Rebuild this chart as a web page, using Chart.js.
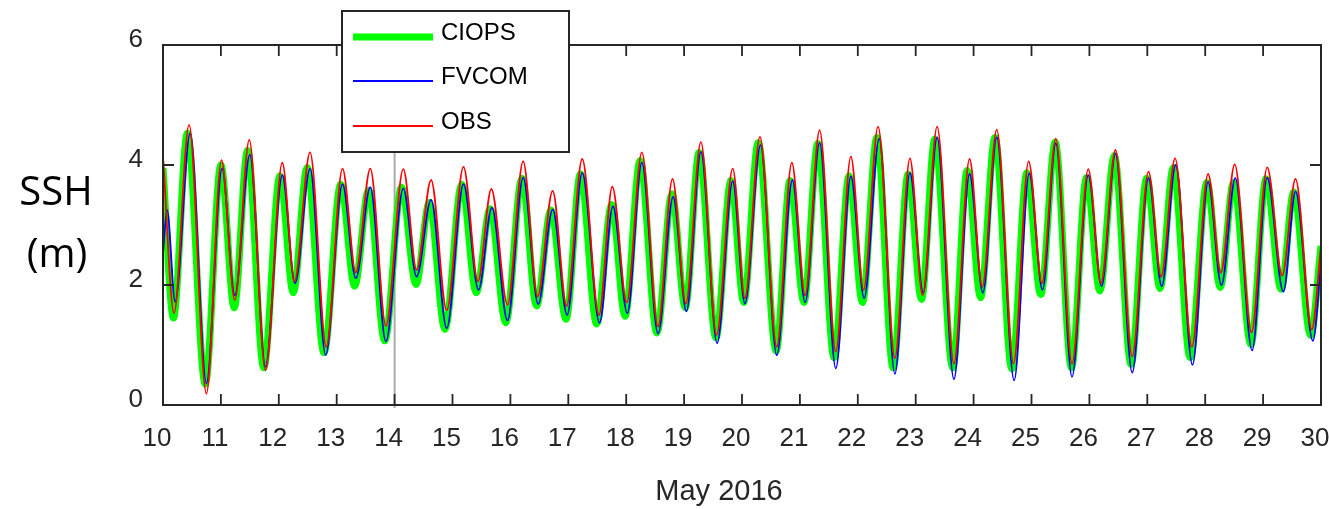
<!DOCTYPE html>
<html>
<head>
<meta charset="utf-8">
<script src="https://cdn.jsdelivr.net/npm/chart.js@4/dist/chart.umd.min.js"></script>
<style>
  html, body { margin: 0; padding: 0; background: #fff; }
  #wrap { width: 1329px; height: 509px; }
</style>
</head>
<body>
<div id="wrap"><canvas id="grafico" width="1329" height="509"></canvas></div>
<script>
// eixos
const xTicks = [10, 11, 12, 13, 14, 15, 16, 17, 18, 19, 20, 21, 22, 23, 24, 25, 26, 27, 28, 29, 30];
const yTicks = [0, 2, 4, 6];
const xLabel = "May 2016";
const yLabel = ["SSH", "(m)"];
const marcaVertical = 14;

// OBS (vermelho): dia de maio, nivel (m)
const obsDias = [10.00, 10.19, 10.45, 10.75, 11.01, 11.24, 11.49, 11.77, 12.06, 12.27,
  12.54, 12.82, 13.10, 13.33, 13.58, 13.85, 14.15, 14.38, 14.63, 14.90,
  15.19, 15.44, 15.67, 15.95, 16.22, 16.47, 16.73, 16.97, 17.24, 17.53,
  17.76, 18.01, 18.27, 18.55, 18.80, 19.03, 19.29, 19.56, 19.84, 20.05,
  20.31, 20.60, 20.86, 21.09, 21.34, 21.62, 21.88, 22.10, 22.35, 22.64,
  22.90, 23.12, 23.37, 23.66, 23.93, 24.15, 24.40, 24.69, 24.95, 25.18,
  25.42, 25.70, 25.98, 26.20, 26.45, 26.74, 27.02, 27.24, 27.48, 27.77,
  28.05, 28.27, 28.51, 28.80, 29.07, 29.33, 29.56, 29.84, 30.00];
const obsSsh = [4.14, 1.53, 4.67, 0.19, 4.08, 1.75, 4.42, 0.58, 4.04, 2.06,
  4.21, 0.97, 3.94, 2.21, 3.94, 1.32, 3.93, 2.25, 3.75, 1.58,
  3.97, 2.06, 3.60, 1.67, 4.06, 1.81, 3.57, 1.65, 4.10, 1.50,
  3.64, 1.71, 4.21, 1.31, 3.77, 1.69, 4.38, 1.17, 3.94, 1.78,
  4.47, 0.97, 4.04, 1.83, 4.58, 0.89, 4.14, 1.92, 4.64, 0.78,
  4.11, 1.83, 4.64, 0.69, 4.10, 1.97, 4.59, 0.69, 4.06, 2.03,
  4.44, 0.69, 3.93, 2.03, 4.25, 0.81, 3.89, 2.14, 4.11, 0.97,
  3.85, 2.21, 4.01, 1.21, 3.96, 2.16, 3.77, 1.26, 2.64];

// FVCOM (azul)
const fvcomDias = [10.00, 10.07, 10.21, 10.47, 10.75, 11.02, 11.24, 11.50, 11.77, 12.06,
  12.28, 12.54, 12.81, 13.10, 13.33, 13.58, 13.85, 14.15, 14.38, 14.63,
  14.90, 15.19, 15.45, 15.68, 15.95, 16.22, 16.48, 16.73, 16.98, 17.24,
  17.54, 17.77, 18.02, 18.27, 18.55, 18.81, 19.04, 19.29, 19.57, 19.84,
  20.05, 20.32, 20.60, 20.87, 21.09, 21.34, 21.62, 21.88, 22.11, 22.37,
  22.64, 22.90, 23.13, 23.37, 23.66, 23.93, 24.16, 24.40, 24.70, 24.96,
  25.19, 25.42, 25.70, 25.98, 26.21, 26.45, 26.74, 27.02, 27.25, 27.49,
  27.78, 28.05, 28.28, 28.52, 28.81, 29.07, 29.35, 29.56, 29.86, 30.00];
const fvcomSsh = [2.53, 3.25, 1.72, 4.53, 0.36, 3.94, 1.83, 4.17, 0.64, 3.83,
  2.03, 3.94, 0.83, 3.68, 2.11, 3.63, 1.06, 3.61, 2.14, 3.42,
  1.28, 3.68, 1.92, 3.29, 1.41, 3.79, 1.68, 3.26, 1.50, 3.87,
  1.37, 3.31, 1.53, 4.04, 1.19, 3.47, 1.56, 4.22, 1.03, 3.73,
  1.69, 4.33, 0.83, 3.75, 1.71, 4.37, 0.61, 3.81, 1.78, 4.44,
  0.52, 3.87, 1.87, 4.46, 0.43, 3.85, 1.87, 4.46, 0.41, 3.86,
  1.92, 4.36, 0.47, 3.83, 1.98, 4.19, 0.54, 3.78, 1.98, 4.00,
  0.67, 3.72, 2.00, 3.78, 0.91, 3.79, 1.89, 3.56, 1.07, 2.36];

// CIOPS (verde, linha grossa)
const ciopsDias = [10.00, 10.18, 10.42, 10.73, 11.00, 11.23, 11.46, 11.74, 12.02, 12.25,
  12.49, 12.78, 13.07, 13.31, 13.55, 13.83, 14.12, 14.37, 14.60, 14.87,
  15.16, 15.41, 15.65, 15.92, 16.20, 16.45, 16.70, 16.96, 17.21, 17.49,
  17.75, 17.98, 18.24, 18.53, 18.79, 19.02, 19.26, 19.55, 19.81, 20.03,
  20.28, 20.59, 20.83, 21.07, 21.31, 21.59, 21.85, 22.08, 22.33, 22.61,
  22.87, 23.10, 23.33, 23.64, 23.89, 24.12, 24.37, 24.66, 24.92, 25.16,
  25.41, 25.69, 25.95, 26.18, 26.43, 26.72, 26.99, 27.22, 27.45, 27.74,
  28.03, 28.26, 28.49, 28.79, 29.05, 29.31, 29.53, 29.82, 30.00];
const ciopsSsh = [3.95, 1.45, 4.53, 0.35, 4.00, 1.62, 4.24, 0.62, 3.82, 1.87,
  3.96, 0.87, 3.68, 1.98, 3.58, 1.07, 3.63, 2.01, 3.38, 1.26,
  3.68, 1.87, 3.27, 1.37, 3.78, 1.65, 3.25, 1.43, 3.85, 1.35,
  3.34, 1.48, 4.07, 1.20, 3.52, 1.62, 4.21, 1.12, 3.74, 1.71,
  4.37, 0.90, 3.74, 1.71, 4.36, 0.79, 3.82, 1.71, 4.46, 0.62,
  3.85, 1.76, 4.43, 0.62, 3.91, 1.79, 4.46, 0.60, 3.87, 1.84,
  4.38, 0.62, 3.79, 1.90, 4.16, 0.68, 3.78, 1.94, 3.96, 0.79,
  3.71, 1.96, 3.71, 1.01, 3.77, 1.93, 3.55, 1.16, 2.65];

const series = [
  { nome: "CIOPS", dias: ciopsDias, valores: ciopsSsh, cor: "#00ff00", largura: 7 },
  { nome: "FVCOM", dias: fvcomDias, valores: fvcomSsh, cor: "#0000ff", largura: 1.8 },
  { nome: "OBS", dias: obsDias, valores: obsSsh, cor: "#ff0000", largura: 1.8 },
];

const corTexto = "#262626";
const fonteEixo = "'Liberation Sans', Arial, sans-serif";

function pontos(dias, valores) {
  return dias.map((d, i) => ({ x: d, y: valores[i] }));
}

// moldura com marcas para dentro, legenda e textos
const molduraPlugin = {
  id: "moldura",
  beforeDatasetsDraw(chart) {
    const { ctx, chartArea: a, scales } = chart;
    const px = scales.x.getPixelForValue(marcaVertical);
    ctx.save();
    ctx.strokeStyle = "#aaaaaa";
    ctx.lineWidth = 2;
    ctx.beginPath();
    ctx.moveTo(px, a.top);
    ctx.lineTo(px, a.bottom + 3);
    ctx.stroke();
    ctx.restore();
  },
  afterDatasetsDraw(chart) {
    const { ctx, chartArea: a, scales } = chart;
    const tam = 11;
    ctx.save();
    ctx.strokeStyle = corTexto;
    ctx.lineWidth = 2;
    ctx.strokeRect(a.left, a.top, a.right - a.left, a.bottom - a.top);

    ctx.lineWidth = 1.8;
    ctx.beginPath();
    xTicks.forEach((v) => {
      const p = scales.x.getPixelForValue(v);
      ctx.moveTo(p, a.bottom);
      ctx.lineTo(p, a.bottom - tam);
      ctx.moveTo(p, a.top);
      ctx.lineTo(p, a.top + tam);
    });
    yTicks.forEach((v) => {
      const p = scales.y.getPixelForValue(v);
      ctx.moveTo(a.left, p);
      ctx.lineTo(a.left + tam, p);
      ctx.moveTo(a.right, p);
      ctx.lineTo(a.right - tam, p);
    });
    ctx.stroke();

    // legenda
    const lx = 342, ly = 11, lw = 227, lh = 141;
    ctx.fillStyle = "#ffffff";
    ctx.fillRect(lx, ly, lw, lh);
    ctx.strokeStyle = corTexto;
    ctx.lineWidth = 2;
    ctx.strokeRect(lx, ly, lw, lh);
    const linhasY = [37, 81, 126];
    ctx.font = "24px " + fonteEixo;
    ctx.textBaseline = "middle";
    ctx.textAlign = "left";
    series.forEach((s, i) => {
      ctx.strokeStyle = s.cor;
      ctx.lineWidth = s.largura;
      ctx.beginPath();
      ctx.moveTo(353, linhasY[i]);
      ctx.lineTo(433, linhasY[i]);
      ctx.stroke();
      ctx.fillStyle = "#000000";
      ctx.fillText(s.nome, 441, linhasY[i] - 4);
    });

    // rotulos dos eixos
    ctx.fillStyle = "#000000";
    ctx.textAlign = "center";
    ctx.font = "40px 'Open Sans', 'Noto Sans', sans-serif";
    ctx.fillText(yLabel[0], 56, 194);
    ctx.fillText(yLabel[1], 57, 256);
    ctx.fillStyle = corTexto;
    ctx.font = "29px " + fonteEixo;
    ctx.fillText(xLabel, 719, 492);
    ctx.restore();
  },
};

new Chart(document.getElementById("grafico").getContext("2d"), {
  type: "line",
  data: {
    datasets: series.map((s, i) => ({
      label: s.nome,
      data: pontos(s.dias, s.valores),
      borderColor: s.cor,
      backgroundColor: s.cor,
      borderWidth: s.largura,
      pointRadius: 0,
      cubicInterpolationMode: "monotone",
      order: series.length - i,
    })),
  },
  options: {
    responsive: false,
    animation: false,
    devicePixelRatio: 1,
    layout: { padding: { top: 45, right: 8, left: 0, bottom: 0 } },
    plugins: {
      legend: { display: false },
      tooltip: { enabled: false },
    },
    scales: {
      x: {
        type: "linear",
        min: 10,
        max: 30,
        afterBuildTicks: (s) => { s.ticks = xTicks.map((v) => ({ value: v })); },
        afterFit: (s) => { s.height = 104; s.paddingLeft = 0; s.paddingRight = 0; },
        grid: { display: false, drawTicks: false },
        border: { display: false },
        ticks: {
          autoSkip: false,
          maxRotation: 0,
          padding: 18,
          labelOffset: -6,
          color: corTexto,
          font: { size: 26, family: fonteEixo },
        },
      },
      y: {
        min: 0,
        max: 6,
        afterBuildTicks: (s) => { s.ticks = yTicks.map((v) => ({ value: v })); },
        afterFit: (s) => { s.width = 163; s.paddingTop = 0; s.paddingBottom = 0; },
        grid: { display: false, drawTicks: false },
        border: { display: false },
        ticks: {
          padding: 20,
          labelOffset: -5,
          color: corTexto,
          font: { size: 26, family: fonteEixo },
        },
      },
    },
  },
  plugins: [molduraPlugin],
});
</script>
</body>
</html>
